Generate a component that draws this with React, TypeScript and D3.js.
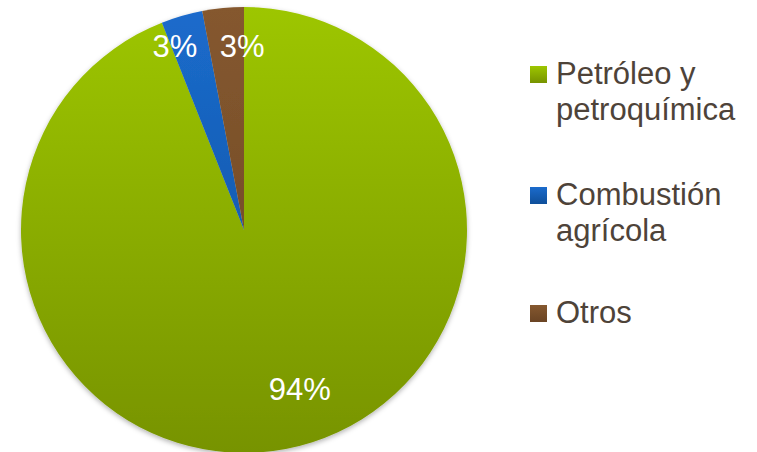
import React from "react";
import * as d3 from "d3";

const categories = ["Petróleo y petroquímica", "Combustión agrícola", "Otros"];
const legendLines = [["Petróleo y", "petroquímica"], ["Combustión", "agrícola"], ["Otros"]];
const values = [94, 3, 3];
const labels = ["94%", "3%", "3%"];

const W = 757;
const H = 452;
const cx = 244;
const cy = 230;
const R = 223;
const gradTop = ["#9dc600", "#1b6bcc", "#85582f"];
const gradBot = ["#779300", "#0f4f9a", "#6a4424"];
const labelRadius = [170, 190, 190];
const labelShift: [number, number][] = [[24, -8], [-16, -2], [16, 5]];
const legendItemY = [84, 205, 323];
const lineGap = 36;
const textColor = "#4e4339";
const font = "Arial, 'Liberation Sans', sans-serif";

export default function App() {
  const pie = d3
    .pie<number>()
    .sort(null)
    .startAngle(0)
    .endAngle(2 * Math.PI)
    .value((d) => d);
  const arcs = pie(values);
  const arc = d3.arc<d3.PieArcDatum<number>>().innerRadius(0).outerRadius(R);

  return (
    <svg
      width={W}
      height={H}
      style={{ position: "absolute", left: 0, top: 0, background: "#fff" }}
      fontFamily={font}
    >
      <defs>
        {categories.map((c, i) => (
          <linearGradient
            key={"g" + i}
            id={"pg" + i}
            gradientUnits="userSpaceOnUse"
            x1={0}
            y1={-R}
            x2={0}
            y2={R}
          >
            <stop offset="0" stopColor={gradTop[i]} />
            <stop offset="1" stopColor={gradBot[i]} />
          </linearGradient>
        ))}
        {categories.map((c, i) => (
          <linearGradient key={"l" + i} id={"lg" + i} x1="0" y1="0" x2="0" y2="1">
            <stop offset="0" stopColor={gradTop[i]} />
            <stop offset="1" stopColor={gradBot[i]} />
          </linearGradient>
        ))}
        <filter id="sh" x="-10%" y="-10%" width="120%" height="120%">
          <feDropShadow dx="0" dy="2" stdDeviation="2.5" floodColor="#000" floodOpacity="0.3" />
        </filter>
      </defs>
      <g transform={`translate(${cx},${cy})`}>
        <g filter="url(#sh)">
          {arcs.map((a, i) => (
            <path key={i} d={arc(a) || ""} fill={`url(#pg${i})`} />
          ))}
        </g>
        {arcs.map((a, i) => {
          const la = d3.arc<d3.PieArcDatum<number>>().innerRadius(labelRadius[i]).outerRadius(labelRadius[i]);
          const [x, y] = la.centroid(a);
          return (
            <text
              key={"t" + i}
              x={x + labelShift[i][0]}
              y={y + labelShift[i][1]}
              dy="0.36em"
              textAnchor="middle"
              fill="#fff"
              fontSize={31}
            >
              {labels[i]}
            </text>
          );
        })}
      </g>
      {categories.map((c, i) => (
        <g key={"leg" + i}>
          <rect x={530} y={legendItemY[i] - 18} width={17} height={17} fill={`url(#lg${i})`} />
          {legendLines[i].map((ln, j) => (
            <text key={j} x={556} y={legendItemY[i] + j * lineGap} fontSize={31} fill={textColor}>
              {ln}
            </text>
          ))}
        </g>
      ))}
    </svg>
  );
}
